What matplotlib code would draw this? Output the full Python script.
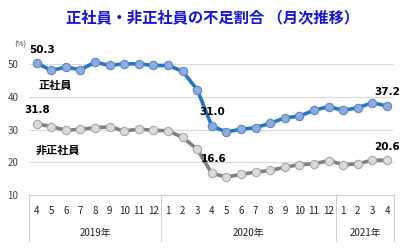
import matplotlib
matplotlib.use("Agg")
import matplotlib.pyplot as plt
import matplotlib.transforms as mtransforms

plt.rcParams['font.family'] = ['Noto Sans CJK JP', 'DejaVu Sans']

months = ["4", "5", "6", "7", "8", "9", "10", "11", "12",
          "1", "2", "3", "4", "5", "6", "7", "8", "9", "10", "11", "12",
          "1", "2", "3", "4"]
years = ["2019年", "2020年", "2021年"]
year_counts = [9, 12, 4]

regular = [50.3, 48.1, 49.1, 48.3, 50.6, 49.6, 50.1, 50.1, 49.6, 49.6, 47.8, 42.2,
           31.0, 29.3, 30.1, 30.6, 31.9, 33.6, 34.1, 35.9, 37.0, 35.9, 36.7, 38.2, 37.2]
nonregular = [31.8, 30.9, 29.8, 30.1, 30.6, 30.8, 29.6, 30.1, 29.8, 29.6, 27.6, 24.0,
              16.6, 15.5, 16.3, 17.0, 17.5, 18.5, 19.3, 19.5, 20.5, 19.3, 19.5, 20.7, 20.6]

fig = plt.figure(figsize=(4.13, 2.52), dpi=100)
ax = fig.add_axes([29.4/413, 57/252, 364.9/413, 147.2/252])
x = list(range(len(months)))

ax.plot(x, regular, color="#1F78C1", lw=2.6, marker="o", ms=6,
        mfc="#8EABDC", mec="#5A86C6", mew=0.8, zorder=3)
ax.plot(x, nonregular, color="#808080", lw=2.6, marker="o", ms=6,
        mfc="#DADADA", mec="#A8A8A8", mew=0.8, zorder=3)

ax.set_xlim(-0.5, len(months) - 0.5)
ax.set_ylim(10, 55)
ax.set_yticks([10, 20, 30, 40, 50])
ax.grid(axis="y", color="#D9D9D9", lw=0.8)
ax.set_axisbelow(True)
for s in ["top", "right", "left"]:
    ax.spines[s].set_visible(False)
ax.spines["bottom"].set_color("#D0D0D0")
ax.spines["bottom"].set_linewidth(0.8)
ax.tick_params(axis="y", length=0, labelsize=7, colors="#404040", pad=8)
ax.set_xticks(x)
ax.set_xticklabels(months)
ax.tick_params(axis="x", length=0, labelsize=7, colors="#202020", pad=8)

# year group labels and separators
trans = mtransforms.blended_transform_factory(ax.transData, ax.transAxes)
start = -0.5
bounds = [start]
for yr, c in zip(years, year_counts):
    ax.text(start + c / 2, -0.255, yr, transform=trans, ha="center", va="center",
            fontsize=7, color="#202020")
    start += c
    bounds.append(start)
for b in bounds:
    ax.plot([b, b], [0, -0.31], transform=trans, color="#D0D0D0", lw=0.8, clip_on=False)

# series labels
ax.text(1.3, 43.4, "正社員", fontsize=8, fontweight="bold", ha="center", va="center")
ax.text(1.45, 23.5, "非正社員", fontsize=8, fontweight="bold", ha="center", va="center")

lab = dict(fontsize=7.5, fontweight="bold", ha="center", va="center", family=["DejaVu Sans"])
ax.text(0.4, 54.4, f"{regular[0]:.1f}", **lab)
ax.text(0.0, 36.0, f"{nonregular[0]:.1f}", **lab)
ax.text(12.0, 35.4, f"{regular[12]:.1f}", **lab)
ax.text(12.1, 21.0, f"{nonregular[12]:.1f}", **lab)
ax.text(24.0, 41.5, f"{regular[24]:.1f}", **lab)
ax.text(24.0, 24.7, f"{nonregular[24]:.1f}", **lab)

fig.text(20/413, 1 - 45/252, "(%)", fontsize=5.5, ha="center", va="center", color="#404040")

fig.text(213/413, 1 - 17/252, "正社員・非正社員の不足割合 （月次推移）", fontsize=11,
         fontweight="bold", color="#1414D9", ha="center", va="center")

fig.savefig("out.png", dpi=100)
